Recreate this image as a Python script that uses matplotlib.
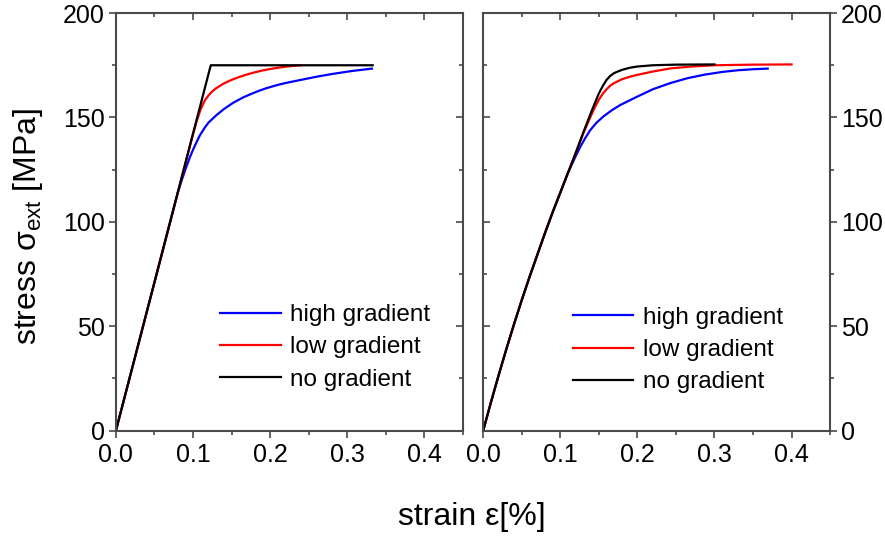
import numpy as np
import matplotlib
matplotlib.use("Agg")
import matplotlib.pyplot as plt
from matplotlib.ticker import MultipleLocator, FormatStrFormatter

plt.rcParams['font.family'] = ['Liberation Sans', 'DejaVu Sans']
plt.rcParams['mathtext.fontset'] = 'custom'
plt.rcParams['mathtext.rm'] = 'Liberation Sans'
plt.rcParams['mathtext.it'] = 'Liberation Sans:italic'

labels = ['high gradient', 'low gradient', 'no gradient']
colors = ['#0000ff', '#ff0000', '#000000']

# left panel (strain %, stress MPa)
l_high_x = [0, 0.08, 0.085, 0.09, 0.096, 0.1, 0.105, 0.109, 0.115, 0.12, 0.13, 0.14, 0.152,
            0.165, 0.175, 0.185, 0.195, 0.21, 0.22, 0.24, 0.26, 0.28, 0.305, 0.332]
l_high_y = [0, 113.6, 119.5, 125, 131, 134.5, 138.5, 141.5, 145, 147.5, 151, 154, 157,
            159.6, 161.2, 162.7, 164, 165.6, 166.5, 168, 169.5, 170.8, 172.2, 173.4]
l_low_x = [0, 0.1, 0.105, 0.11, 0.115, 0.12, 0.125, 0.13, 0.14, 0.15, 0.16, 0.17, 0.18,
           0.19, 0.2, 0.21, 0.22, 0.23, 0.24]
l_low_y = [0, 142, 148.5, 154, 158, 160.5, 162.5, 164, 166.3, 168, 169.4, 170.6, 171.6,
           172.5, 173.2, 173.8, 174.3, 174.7, 175]
l_no_x = [0, 0.123, 0.333]
l_no_y = [0, 175, 175]

# right panel
r_rise_x = [0, 0.01, 0.02, 0.03, 0.04, 0.05, 0.06, 0.07, 0.08, 0.09, 0.1, 0.11]
r_rise_y = [0, 13.5, 26.5, 39, 51, 62.5, 73.5, 84, 94.5, 104.5, 114, 123.5]
r_high_x = r_rise_x + [0.12, 0.126, 0.133, 0.139, 0.147, 0.156, 0.167, 0.178, 0.19, 0.2,
                       0.22, 0.243, 0.265, 0.287, 0.31, 0.33, 0.35, 0.369]
r_high_y = r_rise_y + [131.5, 136, 140.5, 144, 147.5, 150.5, 153.5, 156, 158.2, 160,
                       163.5, 166.5, 168.8, 170.5, 171.8, 172.6, 173.1, 173.4]
r_low_x = r_rise_x + [0.12, 0.13, 0.14, 0.145, 0.15, 0.155, 0.16, 0.165, 0.17, 0.18, 0.19,
                      0.2, 0.22, 0.243, 0.27, 0.3, 0.35, 0.4]
r_low_y = r_rise_y + [133, 142.5, 151, 155, 158.5, 161.3, 163.5, 165.3, 166.5, 168.3, 169.5,
                      170.4, 172, 173.5, 174.4, 175, 175.3, 175.4]
r_no_x = r_rise_x + [0.12, 0.13, 0.14, 0.15, 0.155, 0.16, 0.165, 0.17, 0.18, 0.19, 0.2,
                     0.22, 0.25, 0.3]
r_no_y = r_rise_y + [133, 143, 152.5, 161.5, 165, 168, 170, 171.3, 172.8, 173.8, 174.4,
                     175, 175.3, 175.4]

spine_col = '#4a4a4a'

fig = plt.figure(figsize=(8.85, 5.45), dpi=100)
ax1 = fig.add_axes([0.131, 0.210, 0.392, 0.766])
ax2 = fig.add_axes([0.546, 0.210, 0.392, 0.766])

panels = [
    (ax1, [(l_high_x, l_high_y), (l_low_x, l_low_y), (l_no_x, l_no_y)], 'left'),
    (ax2, [(r_high_x, r_high_y), (r_low_x, r_low_y), (r_no_x, r_no_y)], 'right'),
]

for ax, series, side in panels:
    for (x, y), c, lab in zip(series, colors, labels):
        ax.plot(x, y, color=c, lw=1.6, label=lab, solid_joinstyle='round')
    ax.set_xlim(0, 0.45)
    ax.set_ylim(0, 200)
    for s in ax.spines.values():
        s.set_color(spine_col)
        s.set_linewidth(1.5)
    ax.xaxis.set_major_locator(MultipleLocator(0.1))
    ax.xaxis.set_minor_locator(MultipleLocator(0.05))
    ax.yaxis.set_major_locator(MultipleLocator(50))
    ax.yaxis.set_minor_locator(MultipleLocator(25))
    ax.xaxis.set_major_formatter(FormatStrFormatter('%.1f'))
    ax.tick_params(which='both', color=spine_col, width=1.2, labelsize=18)
    ax.tick_params(which='major', length=5)
    ax.tick_params(which='minor', length=3)
    ax.tick_params(axis='x', direction='out', top=False, pad=4)

    # inward ticks on the top and the inner side
    top = ax.secondary_xaxis('top')
    top.xaxis.set_major_locator(MultipleLocator(0.1))
    top.xaxis.set_minor_locator(MultipleLocator(0.05))
    top.tick_params(which='both', direction='in', color=spine_col, width=1.2, labeltop=False)
    top.tick_params(which='major', length=5)
    top.tick_params(which='minor', length=3)
    top.spines['top'].set_visible(False)

    other = 'right' if side == 'left' else 'left'
    sec = ax.secondary_yaxis(other)
    sec.yaxis.set_major_locator(MultipleLocator(50))
    sec.yaxis.set_minor_locator(MultipleLocator(25))
    sec.tick_params(which='both', direction='in', color=spine_col, width=1.2,
                    labelleft=False, labelright=False)
    sec.tick_params(which='major', length=5)
    sec.tick_params(which='minor', length=3)
    sec.spines[other].set_visible(False)

    ax.legend(frameon=False, fontsize=17.5, handlelength=2.5, handletextpad=0.4,
              labelspacing=0.42, borderpad=0, borderaxespad=0, loc='upper left',
              bbox_to_anchor=(0.30, 0.303) if side == 'left' else (0.258, 0.296))

ax1.tick_params(axis='y', direction='out', left=True, right=False, pad=3)
ax2.yaxis.tick_right()
ax2.tick_params(axis='y', direction='out', right=True, left=False, pad=3)

fig.text(0.032, 0.585, 'stress σ$_{\\mathrm{ext}}$ [MPa]', rotation=90, fontsize=23,
         ha='center', va='center')
fig.text(0.533, 0.051, 'strain ε[%]', fontsize=23, ha='center', va='center')

fig.savefig('out.png', dpi=100)
